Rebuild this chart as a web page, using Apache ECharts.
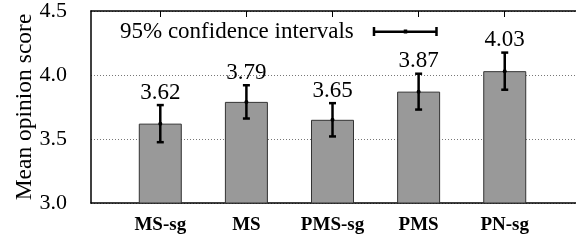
<!DOCTYPE html>
<html>
<head>
<meta charset="utf-8">
<script src="https://cdn.jsdelivr.net/npm/echarts@6/dist/echarts.min.js"></script>
<style>
  html, body { margin: 0; padding: 0; background: #fff; }
  #chart { width: 576px; height: 241px; }
</style>
</head>
<body>
<div id="chart"></div>
<script>
// data
var categories = ['MS-sg', 'MS', 'PMS-sg', 'PMS', 'PN-sg']
var positions = [1, 2, 3, 4, 5]
var scores = [3.62, 3.79, 3.65, 3.87, 4.03]
var ciHalf = [0.145, 0.13, 0.13, 0.14, 0.145]
var yTicks = [3.0, 3.5, 4.0, 4.5]

var FONT = '"Liberation Serif", "Times New Roman", serif'
var ciName = '95% confidence intervals'

var barData = positions.map(function (p, i) { return [p, scores[i]] })
var ciData = positions.map(function (p, i) {
  return [p, scores[i] - ciHalf[i], scores[i] + ciHalf[i], scores[i]]
})

var chart = echarts.init(document.getElementById('chart'))

var option = {
  animation: false,
  grid: { left: 91, top: 9, bottom: 38, width: 490 },
  legend: {
    data: [{
      name: ciName,
      icon: 'path://M0 0h2.5v9h-2.5z M0 3.5h65v2.5h-65z M62.5 0h2.5v9h-2.5z M31 2.5h3.5v4h-3.5z'
    }],
    left: 115,
    top: 15,
    align: 'right',
    itemWidth: 65,
    itemHeight: 9,
    selectedMode: false,
    itemStyle: { color: '#000' },
    textStyle: { fontFamily: FONT, fontSize: 23, color: '#000', padding: [0, 14, 0, 0] }
  },
  xAxis: [{
    type: 'value',
    min: 1 - 70 / 87,
    max: 1 - 70 / 87 + 490 / 87,
    position: 'bottom',
    splitLine: { show: false },
    axisLine: { lineStyle: { color: '#000', width: 1.5 } },
    axisTick: { show: false },
    axisLabel: {
      customValues: positions,
      formatter: function (v) { return categories[Math.round(v) - 1] || '' },
      fontFamily: FONT, fontSize: 19, fontWeight: 'bold', color: '#000',
      margin: 13
    }
  }, {
    type: 'value',
    min: 1 - 70 / 87,
    max: 1 - 70 / 87 + 490 / 87,
    position: 'top',
    splitLine: { show: false },
    axisLine: { lineStyle: { color: '#000', width: 1.5 } },
    axisTick: { show: true, inside: true, length: 6, customValues: positions, lineStyle: { color: '#000', width: 1 } },
    axisLabel: { show: false }
  }],
  yAxis: {
    type: 'value',
    min: 3,
    max: 4.5,
    interval: 0.5,
    name: 'Mean opinion score',
    nameLocation: 'middle',
    nameGap: 54,
    nameMoveOverlap: false,
    nameTextStyle: { fontFamily: FONT, fontSize: 23.5, color: '#000' },
    axisLine: { show: true, lineStyle: { color: '#000', width: 1.5 } },
    axisTick: { show: false },
    splitLine: { lineStyle: { type: [1, 2], color: '#777', width: 1 } },
    axisLabel: {
      customValues: yTicks,
      formatter: function (v) { return v.toFixed(1) },
      fontFamily: FONT, fontSize: 22, color: '#000', margin: 24
    }
  },
  series: [{
    type: 'bar',
    data: barData,
    barWidth: 43,
    itemStyle: { color: '#999999', borderColor: '#333', borderWidth: 1 },
    z: 2
  }, {
    type: 'custom',
    name: ciName,
    data: ciData,
    z: 5,
    itemStyle: { color: '#000' },
    renderItem: function (params, api) {
      var x = api.value(0)
      var lo = api.coord([x, api.value(1)])
      var hi = api.coord([x, api.value(2)])
      var mid = api.coord([x, api.value(3)])
      var cap = 3.5
      var st = { stroke: '#000', lineWidth: 2.5 }
      return {
        type: 'group',
        children: [
          { type: 'line', shape: { x1: hi[0], y1: hi[1], x2: lo[0], y2: lo[1] }, style: st },
          { type: 'line', shape: { x1: hi[0] - cap, y1: hi[1], x2: hi[0] + cap, y2: hi[1] }, style: st },
          { type: 'line', shape: { x1: lo[0] - cap, y1: lo[1], x2: lo[0] + cap, y2: lo[1] }, style: st },
          { type: 'circle', shape: { cx: mid[0], cy: mid[1], r: 2 }, style: { fill: '#000' } },
          {
            type: 'text',
            x: hi[0], y: hi[1] - 1,
            style: {
              text: api.value(3).toFixed(2),
              fontFamily: FONT, fontSize: 23, fill: '#000',
              align: 'center', verticalAlign: 'bottom'
            }
          }
        ]
      }
    }
  }]
}

chart.setOption(option)
</script>
</body>
</html>
